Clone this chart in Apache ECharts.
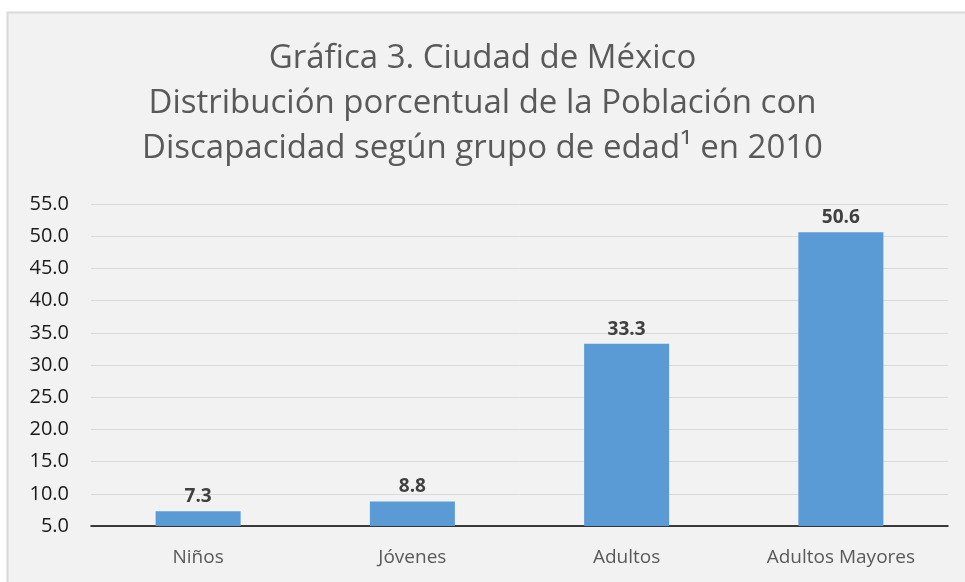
<!DOCTYPE html>
<html>
<head>
    <meta charset="utf-8">
    <title>Gráfica 3. Ciudad de México</title>
    <script src="https://cdn.jsdelivr.net/npm/echarts@6/dist/echarts.min.js"></script>
    <style>
        html, body { margin: 0; padding: 0; background: #fff; }
        #main { width: 965px; height: 582px; }
    </style>
</head>
<body>
<div id="main"></div>
<script type="text/javascript">
    // datos de la gráfica
    var grupos = ['Niños', 'Jóvenes', 'Adultos', 'Adultos Mayores'];
    var porcentajes = [7.3, 8.8, 33.3, 50.6];
    var titulo = ['Gráfica 3. Ciudad de México',
        'Distribución porcentual de la Población con',
        'Discapacidad según grupo de edad¹ en 2010'];

    var myChart = echarts.init(document.getElementById('main'));

    var option = {
        backgroundColor: '#ffffff',
        animation: false,
        graphic: [{
            type: 'rect',
            shape: { x: 7.5, y: 12.5, width: 970, height: 580 },
            style: { fill: '#f2f2f2', stroke: '#d9d9d9', lineWidth: 2 },
            z: -10
        }],
        title: {
            text: titulo.join('\n'),
            left: 'center',
            top: 31,
            textStyle: {
                fontFamily: 'Open Sans',
                fontSize: 33,
                fontWeight: 'normal',
                lineHeight: 45,
                color: '#595959'
            }
        },
        grid: {
            left: 91,
            right: 17,
            top: 204,
            bottom: 56,
            containLabel: false
        },
        xAxis: {
            type: 'category',
            data: grupos,
            axisLine: { lineStyle: { color: '#000', width: 1.5 } },
            axisTick: { show: false },
            axisLabel: {
                fontFamily: 'Open Sans',
                fontSize: 19,
                color: '#595959',
                margin: 22
            }
        },
        yAxis: {
            type: 'value',
            min: 5,
            max: 55,
            interval: 5,
            axisLine: { show: false },
            axisTick: { show: false },
            axisLabel: {
                fontFamily: 'Open Sans',
                fontSize: 20,
                color: '#1a1a1a',
                margin: 22,
                formatter: function (v) { return v.toFixed(1); }
            },
            splitLine: { lineStyle: { color: '#d9d9d9', width: 1 } }
        },
        series: [{
            type: 'bar',
            data: porcentajes,
            barWidth: 85,
            itemStyle: { color: '#5b9bd5' },
            label: {
                show: true,
                position: 'top',
                distance: 5,
                fontFamily: 'Open Sans',
                fontSize: 19,
                fontWeight: 'bold',
                color: '#404040',
                formatter: function (p) { return p.value.toFixed(1); }
            }
        }]
    };

    myChart.setOption(option);
</script>
</body>
</html>
